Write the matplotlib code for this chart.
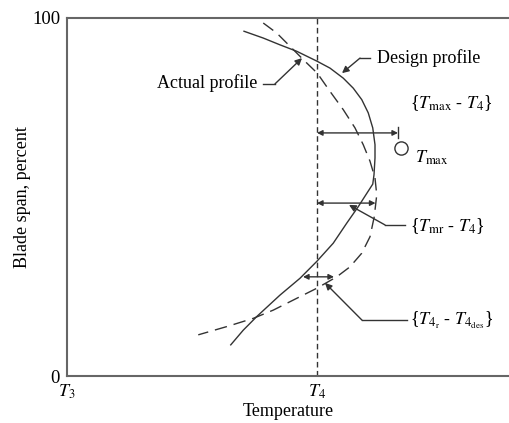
import matplotlib
matplotlib.use("Agg")
import matplotlib.pyplot as plt

plt.rcParams['font.family'] = ['Liberation Serif', 'DejaVu Serif']
plt.rcParams['mathtext.fontset'] = 'stix'

# Temperature normalised: T3 = 0, T4 = 1 ; span in percent
design_temp = [0.708, 0.785, 0.852, 0.919, 1.001, 1.052, 1.105, 1.145, 1.179, 1.205,
               1.223, 1.232, 1.232, 1.228, 1.223, 1.199, 1.165, 1.119, 1.065, 0.999,
               0.932, 0.852, 0.759, 0.705, 0.655]
design_span = [96.3, 94.4, 92.5, 90.7, 87.9, 86.0, 83.2, 80.4, 77.2, 73.5,
               69.3, 64.6, 60.9, 56.2, 53.6, 51.0, 47.3, 42.7, 37.1, 32.0,
               27.3, 22.6, 16.6, 12.8, 8.7]

actual_temp = [0.785, 0.839, 0.899, 0.952, 1.001, 1.052, 1.105, 1.152, 1.185, 1.212,
               1.232, 1.239, 1.229, 1.212, 1.179, 1.132, 1.079, 0.999, 0.919, 0.825,
               0.745, 0.639, 0.525]
actual_span = [98.6, 95.8, 91.6, 87.9, 84.6, 79.5, 74.4, 69.3, 64.6, 60.0,
               55.3, 50.6, 44.5, 38.9, 34.3, 30.5, 27.7, 24.5, 21.7, 18.4,
               16.1, 13.8, 11.5]

T4 = 1.0
T_max = 1.336
T_max_span = 63.7

xtick_pos = [0, 1]
xtick_labels = [r'$T_3$', r'$T_4$']
ytick_pos = [0, 100]
ytick_labels = ['0', '100']

fig = plt.figure(figsize=(5.09, 4.23), dpi=100)
ax = fig.add_axes([67/509, 47/423, 442/509, 358/423])
ax.set_xlim(0, 442/250)
ax.set_ylim(0, 100)

lc = '#333333'
fs = 13
ax.plot(design_temp, design_span, color=lc, lw=1.0)
ax.plot(actual_temp, actual_span, color=lc, lw=1.0, dashes=(9, 5))
ax.plot([T4, T4], [0, 100], color=lc, lw=1.0, dashes=(4, 2.5))

ap2 = dict(arrowstyle='<|-|>', color=lc, lw=1.0, mutation_scale=8, shrinkA=0, shrinkB=0)
# {Tmax - T4}
ax.annotate('', xy=(1.324, 67.9), xytext=(T4, 67.9), arrowprops=ap2)
ax.plot([1.324, 1.324], [66.6, 69.6], color=lc, lw=1.0)
ax.plot([T_max], [T_max_span], marker='o', ms=9.5, mfc='white', mec=lc, mew=1.0)
# {Tmr - T4}
ax.annotate('', xy=(1.234, 48.3), xytext=(T4, 48.3), arrowprops=ap2)
# {T4r - T4des}
ax.annotate('', xy=(1.068, 27.7), xytext=(0.944, 27.7), arrowprops=ap2)

ap1 = dict(arrowstyle='-|>', color=lc, lw=1.0, mutation_scale=10, shrinkA=0, shrinkB=0)

def leader(tip, knee, end):
    ax.plot([end[0], knee[0]], [end[1], knee[1]], color=lc, lw=1.0)
    ax.annotate('', xy=tip, xytext=knee, arrowprops=ap1)

leader((1.1, 84.6), (1.172, 88.8), (1.212, 88.8))
ax.text(1.24, 88.8, 'Design profile', fontsize=fs, ha='left', va='center')

leader((0.94, 88.8), (0.832, 81.6), (0.784, 81.6))
ax.text(0.76, 81.8, 'Actual profile', fontsize=fs, ha='right', va='center')

leader((1.128, 47.8), (1.272, 42.2), (1.352, 42.2))
ax.text(1.372, 42.0, r'{$T_{\rm mr}$ - $T_4$}', fontsize=fs, ha='left', va='center')

leader((1.032, 26.0), (1.18, 15.6), (1.36, 15.6))
ax.text(1.372, 15.4, r'{$T_{4_{\rm r}}$ - $T_{4_{\rm des}}$}', fontsize=fs, ha='left', va='center')

ax.text(1.372, 76.3, r'{$T_{\rm max}$ - $T_4$}', fontsize=fs, ha='left', va='center')
ax.text(1.392, 60.9, r'$T_{\rm max}$', fontsize=fs, ha='left', va='center')

ax.set_xticks(xtick_pos)
ax.set_xticklabels(xtick_labels, fontsize=fs)
ax.set_yticks(ytick_pos)
ax.set_yticklabels(ytick_labels, fontsize=13.5)
ax.tick_params(length=0, pad=5)
ax.set_xlabel('Temperature', fontsize=fs, labelpad=1)
ax.set_ylabel('Blade span, percent', fontsize=fs, labelpad=1)

ax.spines['right'].set_visible(False)
for s in ['left', 'top', 'bottom']:
    ax.spines[s].set_color('#666666')
    ax.spines[s].set_linewidth(1.5)

fig.savefig('out.png', dpi=100)
